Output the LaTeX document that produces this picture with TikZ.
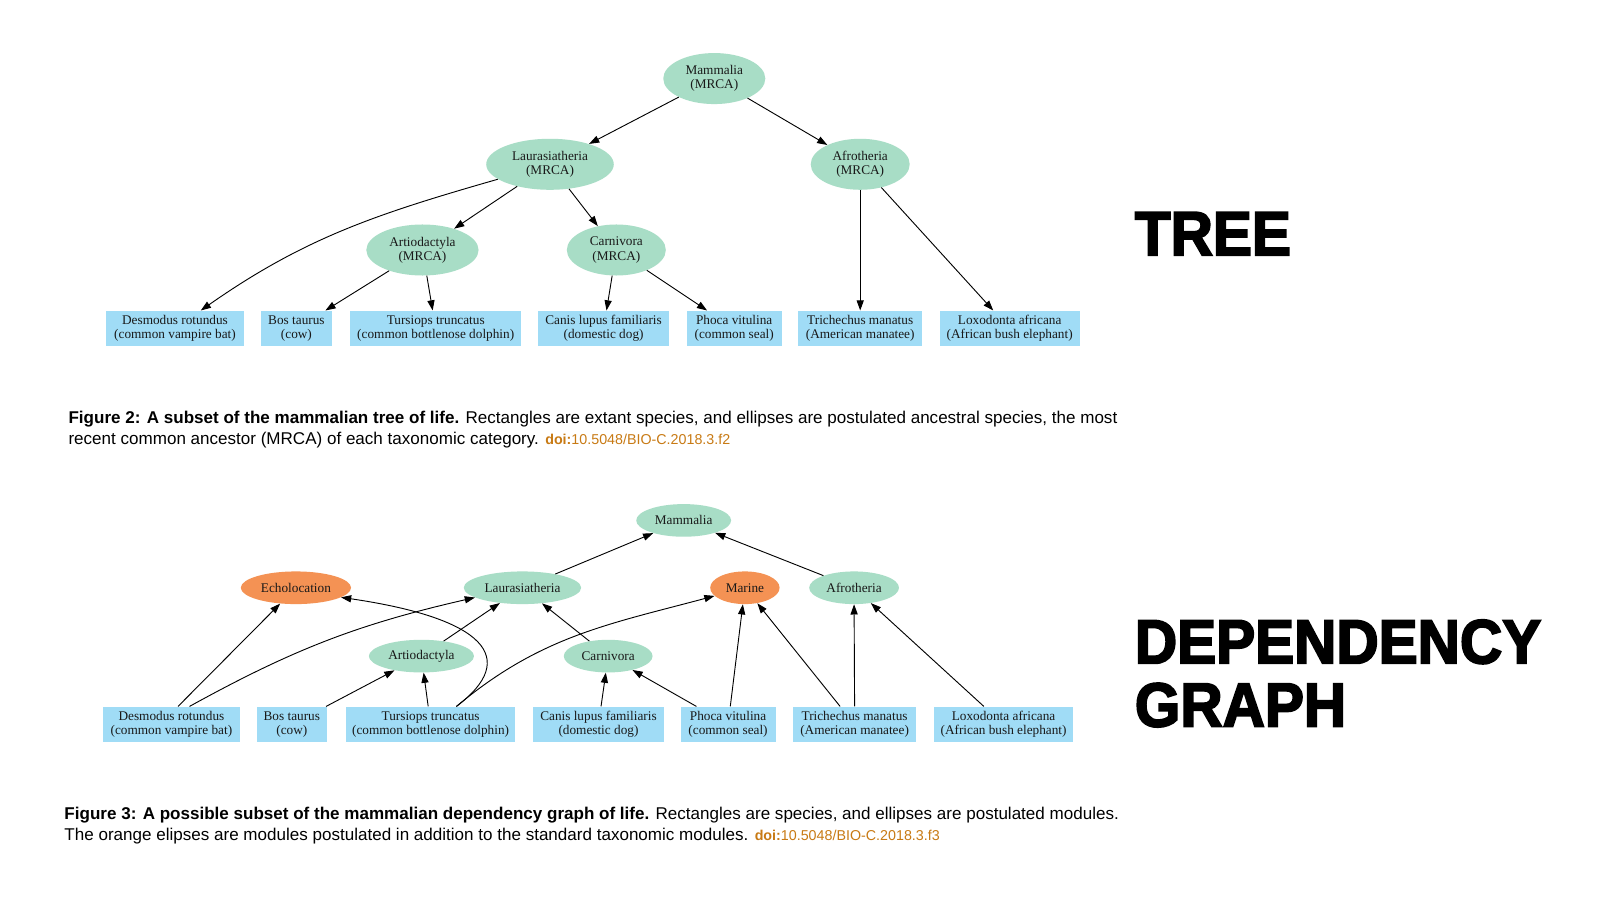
\documentclass[tikz,border=0pt]{standalone}
\usepackage{fontspec}
\setmainfont{Liberation Serif}
\newfontfamily\capfont{Liberation Sans}
\newfontfamily\bigfont{Liberation Sans}[FakeStretch=0.94,FakeBold=3]
\usetikzlibrary{arrows.meta,shapes.geometric}
\definecolor{mint}{RGB}{168,221,198}
\definecolor{orng}{RGB}{244,146,84}
\definecolor{skyb}{RGB}{160,220,246}
\definecolor{doic}{RGB}{200,122,20}
\newcommand{\doitxt}[1]{{\fontsize{14}{21}\selectfont\color{doic}{\bfseries doi:}#1}}
\tikzset{
  ell/.style={ellipse,fill=mint,inner sep=0pt,align=center,font=\fontsize{13}{14}\selectfont,text=black!90},
  oell/.style={ell,fill=orng},
  spec/.style={rectangle,fill=skyb,inner sep=0pt,minimum height=35pt,align=center,font=\fontsize{13}{14}\selectfont,text=black!90},
  arr/.style={-{Triangle[length=10pt,width=7pt]},line width=0.9pt},
  capt/.style={anchor=base west,inner sep=0pt,font=\capfont\fontsize{16.7}{21}\selectfont,align=left},
  big/.style={anchor=base west,inner sep=0pt,font=\bigfont\bfseries\fontsize{61}{61}\selectfont}
}
\begin{document}
\begin{tikzpicture}[x=1pt,y=-1pt]
\useasboundingbox[fill=white] (0,0) rectangle (1568,882);
% ---------------- TREE ----------------
\node[ell,minimum width=100pt,minimum height=50pt] (tmam) at (700,77) {Mammalia\\(MRCA)};
\node[ell,minimum width=125pt,minimum height=50pt] (tlau) at (539,161) {Laurasiatheria\\(MRCA)};
\node[ell,minimum width=97pt,minimum height=50pt] (tafr) at (843,161) {Afrotheria\\(MRCA)};
\node[ell,minimum width=110pt,minimum height=50pt] (tart) at (414,245) {Artiodactyla\\(MRCA)};
\node[ell,minimum width=97pt,minimum height=50pt] (tcar) at (604,245) {Carnivora\\(MRCA)};
\node[spec,minimum width=135pt] (tdes) at (171.5,322) {Desmodus rotundus\\(common vampire bat)};
\node[spec,minimum width=69pt] (tbos) at (290.5,322) {Bos taurus\\(cow)};
\node[spec,minimum width=168pt] (ttur) at (427,322) {Tursiops truncatus\\(common bottlenose dolphin)};
\node[spec,minimum width=129pt] (tcan) at (591.5,322) {Canis lupus familiaris\\(domestic dog)};
\node[spec,minimum width=93pt] (tpho) at (719.5,322) {Phoca vitulina\\(common seal)};
\node[spec,minimum width=122pt] (ttri) at (843,322) {Trichechus manatus\\(American manatee)};
\node[spec,minimum width=137pt] (tlox) at (989.5,322) {Loxodonta africana\\(African bush elephant)};
\draw[arr] (tmam) -- (tlau);
\draw[arr] (tmam) -- (tafr);
\draw[arr] (tlau) to[out=196,in=35] (tdes);
\draw[arr] (tlau) -- (tart);
\draw[arr] (tlau) -- (tcar);
\draw[arr] (tart) -- (tbos);
\draw[arr] (tart) -- (ttur);
\draw[arr] (tcar) -- (tcan);
\draw[arr] (tcar) -- (tpho);
\draw[arr] (tafr.south) -- (ttri.north);
\draw[arr] (tafr) -- (tlox);
\node[capt] (cap2) at (67,436) {{\bfseries Figure 2: A subset of the mammalian tree of life.} Rectangles are extant species, and ellipses are postulated ancestral species, the most\\recent common ancestor (MRCA) of each taxonomic category. \doitxt{10.5048/BIO-C.2018.3.f2}};
% ---------------- DEPENDENCY GRAPH ----------------
\node[ell,minimum width=93pt,minimum height=32pt] (gmam) at (670,510) {Mammalia};
\node[oell,minimum width=108pt,minimum height=32pt] (gech) at (290,576) {Echolocation};
\node[ell,minimum width=115pt,minimum height=32pt] (glau) at (512,576) {Laurasiatheria};
\node[oell,minimum width=68pt,minimum height=32pt] (gmar) at (730,576) {Marine};
\node[ell,minimum width=88pt,minimum height=32pt] (gafr) at (837,576) {Afrotheria};
\node[ell,minimum width=103pt,minimum height=32pt] (gart) at (413,643) {Artiodactyla};
\node[ell,minimum width=87pt,minimum height=32pt] (gcar) at (596,643) {Carnivora};
\node[spec,minimum width=134pt] (gdes) at (168,710) {Desmodus rotundus\\(common vampire bat)};
\node[spec,minimum width=68pt] (gbos) at (286,710) {Bos taurus\\(cow)};
\node[spec,minimum width=166pt] (gtur) at (422,710) {Tursiops truncatus\\(common bottlenose dolphin)};
\node[spec,minimum width=129pt] (gcan) at (586.5,710) {Canis lupus familiaris\\(domestic dog)};
\node[spec,minimum width=93pt] (gpho) at (713.5,710) {Phoca vitulina\\(common seal)};
\node[spec,minimum width=121pt] (gtri) at (837.5,710) {Trichechus manatus\\(American manatee)};
\node[spec,minimum width=137pt] (glox) at (983.5,710) {Loxodonta africana\\(African bush elephant)};
\draw[arr] (glau) -- (gmam);
\draw[arr] (gafr) -- (gmam);
\draw[arr] (gdes.70) -- (gech);
\draw[arr] (gdes.45) to[bend left=8] (glau);
\draw[arr] (gbos) -- (gart);
\draw[arr] (gtur) -- (gart);
\draw[arr] (gtur.35) .. controls (510,645) and (475,606) .. (gech.-12);
\draw[arr] (gtur.35) to[out=40,in=195] (gmar);
\draw[arr] (gart) -- (glau);
\draw[arr] (gcar) -- (glau);
\draw[arr] (gcan) -- (gcar);
\draw[arr] (gpho) -- (gcar);
\draw[arr] (gpho) -- (gmar);
\draw[arr] (gtri) -- (gmar);
\draw[arr] (gtri.north) -- (gafr.south);
\draw[arr] (glox) -- (gafr);
\node[capt] (cap3) at (63,824) {{\bfseries Figure 3: A possible subset of the mammalian dependency graph of life.} Rectangles are species, and ellipses are postulated modules.\\The orange elipses are modules postulated in addition to the standard taxonomic modules. \doitxt{10.5048/BIO-C.2018.3.f3}};
% ---------------- Labels ----------------
\node[big] (ltree) at (1112,250) {TREE};
\node[big] (ldep) at (1112,650) {DEPENDENCY};
\node[big] (lgra) at (1112,712) {GRAPH};
\end{tikzpicture}
\end{document}
